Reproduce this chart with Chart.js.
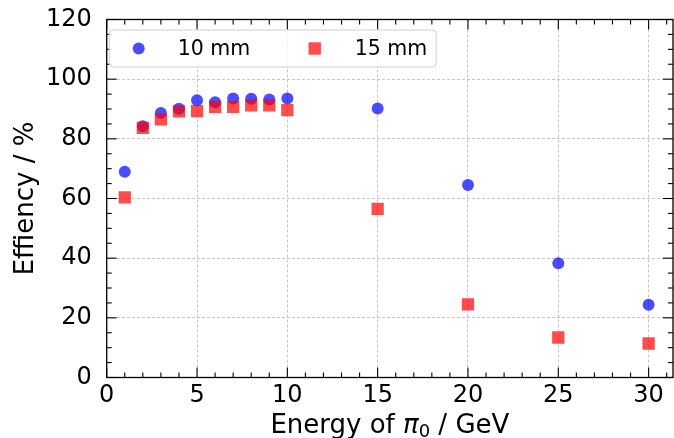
<!DOCTYPE html>
<html>
<head>
<meta charset="utf-8">
<script src="https://cdn.jsdelivr.net/npm/chart.js@4.4.1/dist/chart.umd.min.js"></script>
<style>
  html, body { margin: 0; padding: 0; background: #fff; }
</style>
</head>
<body>
<canvas id="myChart" width="674" height="438"></canvas>
<script>
// Detection efficiency vs. pi0 energy for two thicknesses
const energies = [1, 2, 3, 4, 5, 6, 7, 8, 9, 10, 15, 20, 25, 30];
const eff10mm = [69.0, 84.2, 88.7, 90.1, 92.9, 92.3, 93.5, 93.4, 93.2, 93.5, 90.2, 64.5, 38.3, 24.4];
const eff15mm = [60.4, 83.7, 86.5, 89.2, 89.3, 90.7, 90.7, 91.2, 91.2, 89.6, 56.5, 24.5, 13.4, 11.4];
const xTicks = [0, 5, 10, 15, 20, 25, 30];
const yTicks = [0, 20, 40, 60, 80, 100, 120];
const seriesLabels = ["10 mm", "15 mm"];

const FONT = "'DejaVu Sans', 'Liberation Sans', sans-serif";
const BLUE = "rgba(0, 0, 255, 0.7)";
const RED = "rgba(255, 0, 0, 0.7)";

const toPoints = (ys) => energies.map((x, i) => ({ x: x, y: ys[i] }));

// frame, inward ticks, legend box and x title (mathtext-like)
const framePlugin = {
  id: "frame",
  afterDraw(chart) {
    const ctx = chart.ctx;
    const ca = chart.chartArea;
    const xs = chart.scales.x, ys = chart.scales.y;
    ctx.save();

    // ticks on all four sides, pointing in
    ctx.strokeStyle = "#000";
    ctx.lineWidth = 1.1;
    const tick = (x1, y1, x2, y2) => {
      ctx.beginPath(); ctx.moveTo(x1, y1); ctx.lineTo(x2, y2); ctx.stroke();
    };
    for (let v = 0; v <= 31; v++) {
      const len = xTicks.includes(v) ? 10 : 5;
      const px = xs.getPixelForValue(v);
      tick(px, ca.bottom, px, ca.bottom - len);
      tick(px, ca.top, px, ca.top + len);
    }
    for (let v = 0; v <= 120; v += 5) {
      const len = yTicks.includes(v) ? 10 : 5;
      const py = ys.getPixelForValue(v);
      tick(ca.left, py, ca.left + len, py);
      tick(ca.right, py, ca.right - len, py);
    }

    // spines
    ctx.lineWidth = 1.3;
    ctx.strokeRect(ca.left, ca.top, ca.right - ca.left, ca.bottom - ca.top);

    // legend
    const bx = ca.left + 2.5, by = ca.top + 10.5, bw = 327, bh = 37;
    ctx.beginPath();
    ctx.roundRect(bx, by, bw, bh, 4);
    ctx.fillStyle = "rgba(255,255,255,0.8)";
    ctx.fill();
    ctx.strokeStyle = "#d0d0d0";
    ctx.lineWidth = 1;
    ctx.stroke();

    const my = by + 18.5;
    ctx.fillStyle = BLUE;
    ctx.beginPath();
    ctx.arc(bx + 29.5, my, 6, 0, Math.PI * 2);
    ctx.fill();
    ctx.fillStyle = RED;
    ctx.fillRect(bx + 205.5 - 6.2, my - 6.2, 12.4, 12.4);

    ctx.fillStyle = "#000";
    ctx.font = "20.5px " + FONT;
    ctx.textBaseline = "middle";
    ctx.textAlign = "left";
    ctx.fillText(seriesLabels[0], bx + 68.5, my + 1);
    ctx.fillText(seriesLabels[1], bx + 245.5, my + 1);

    // x axis title: Energy of pi_0 / GeV
    const parts = [
      { t: "Energy of ", f: "26px " + FONT, dy: 0 },
      { t: "\u03c0", f: "italic 26px " + FONT, dy: 0 },
      { t: "0", f: "18px " + FONT, dy: 4 },
      { t: " / GeV", f: "26px " + FONT, dy: 0 }
    ];
    let total = 0;
    parts.forEach(p => { ctx.font = p.f; p.w = ctx.measureText(p.t).width; total += p.w; });
    let tx = (ca.left + ca.right) / 2 - total / 2;
    ctx.textBaseline = "alphabetic";
    parts.forEach(p => {
      ctx.font = p.f;
      ctx.fillText(p.t, tx, 433 + p.dy);
      tx += p.w;
    });

    ctx.restore();
  }
};

const ctx = document.getElementById("myChart").getContext("2d");
const chart = new Chart(ctx, {
  type: "scatter",
  data: {
    datasets: [
      {
        label: seriesLabels[0],
        data: toPoints(eff10mm),
        pointStyle: "circle",
        pointRadius: 6,
        backgroundColor: BLUE,
        borderWidth: 0,
        order: 1
      },
      {
        label: seriesLabels[1],
        data: toPoints(eff15mm),
        pointStyle: "rect",
        pointRadius: 8.7,
        backgroundColor: RED,
        borderWidth: 0,
        order: 0
      }
    ]
  },
  options: {
    responsive: false,
    animation: false,
    devicePixelRatio: 1,
    events: [],
    layout: {
      autoPadding: false, // big markers would otherwise shrink the plot box
      padding: { top: 19.5, right: 1, bottom: 0, left: 0 }
    },
    scales: {
      x: {
        type: "linear",
        min: 0,
        max: 31.35,
        afterBuildTicks: (s) => { s.ticks = xTicks.map(v => ({ value: v })); },
        afterFit: (s) => {
          s.height = 60.5;
          s.paddingLeft = 0; s.paddingRight = 0;
        },
        grid: { color: "#b8b8b8", lineWidth: 0.8, drawTicks: false },
        border: { display: false, dash: [3, 2] },
        ticks: {
          font: { family: FONT, size: 24 },
          color: "#000",
          padding: 4,
          maxRotation: 0
        }
      },
      y: {
        min: 0,
        max: 120,
        afterBuildTicks: (s) => { s.ticks = yTicks.map(v => ({ value: v })); },
        afterFit: (s) => {
          s.width = 106.7;
          s.paddingTop = 0; s.paddingBottom = 0;
        },
        grid: { color: "#b8b8b8", lineWidth: 0.8, drawTicks: false },
        border: { display: false, dash: [3, 2] },
        ticks: {
          font: { family: FONT, size: 24 },
          color: "#000",
          padding: 15
        },
        title: {
          display: true,
          text: "Effiency / %",
          font: { family: FONT, size: 26 },
          color: "#000",
          padding: { top: 11, bottom: 0 }
        }
      }
    },
    plugins: {
      legend: { display: false },
      tooltip: { enabled: false }
    }
  },
  plugins: [framePlugin]
});
</script>
</body>
</html>
